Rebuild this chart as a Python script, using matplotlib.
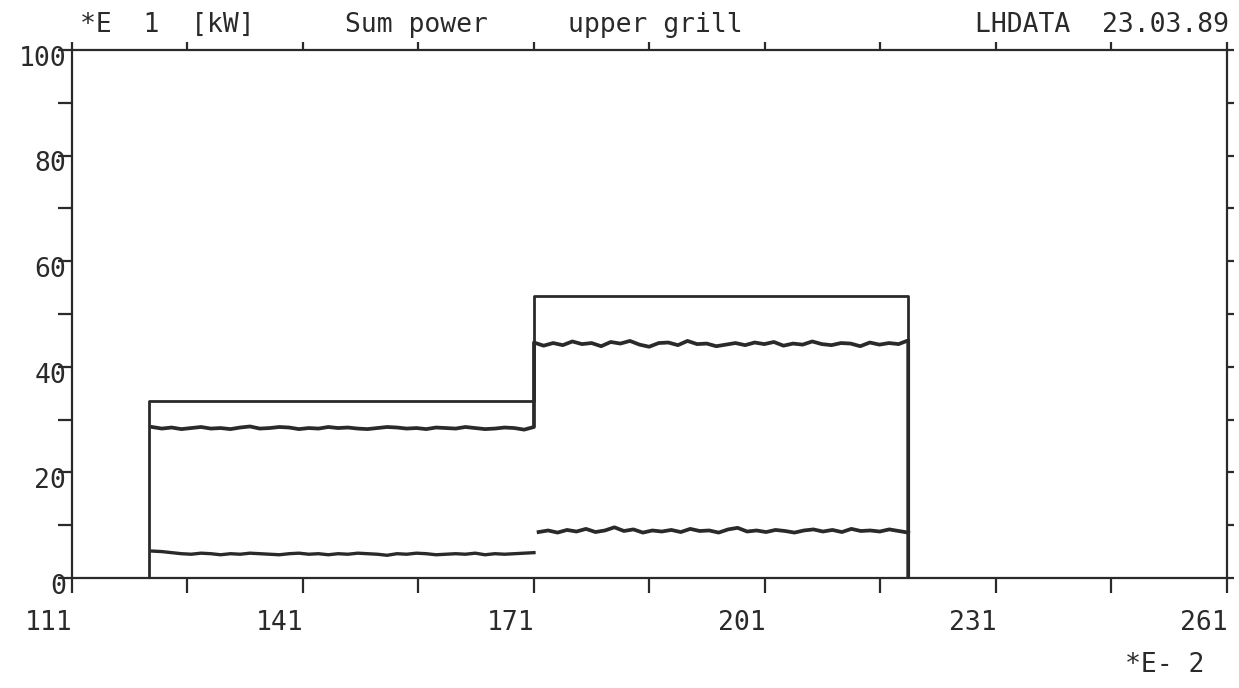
import numpy as np
import matplotlib
matplotlib.use("Agg")
import matplotlib.pyplot as plt
import matplotlib.transforms as mtransforms

# sum power (step outline)
sum_x = [111, 121, 171, 219.6, 261]
sum_y = [0, 33.5, 53.4, 0, 0]

# upper grill trace, two heating phases
mid1 = [28.6, 28.3, 28.5, 28.2, 28.4, 28.6, 28.3, 28.4, 28.2, 28.5, 28.7, 28.3, 28.4, 28.6,
        28.5, 28.2, 28.4, 28.3, 28.6, 28.4, 28.5, 28.3, 28.2, 28.4, 28.6, 28.5, 28.3, 28.4,
        28.2, 28.5, 28.4, 28.3, 28.6, 28.4, 28.2, 28.3, 28.5, 28.4, 28.1, 28.6]
mid2 = [44.6, 44.0, 44.5, 44.1, 44.8, 44.3, 44.5, 43.9, 44.7, 44.4, 44.9, 44.2, 43.8, 44.5,
        44.6, 44.1, 44.9, 44.3, 44.4, 43.9, 44.2, 44.5, 44.1, 44.6, 44.3, 44.7, 44.0, 44.4,
        44.2, 44.8, 44.3, 44.1, 44.5, 44.4, 43.9, 44.6, 44.2, 44.5, 44.3, 45.0]

# lower trace
low1 = [5.1, 5.0, 4.8, 4.6, 4.5, 4.7, 4.6, 4.4, 4.6, 4.5, 4.7, 4.6, 4.5, 4.4, 4.6, 4.7,
        4.5, 4.6, 4.4, 4.6, 4.5, 4.7, 4.6, 4.5, 4.3, 4.6, 4.5, 4.7, 4.6, 4.4, 4.5, 4.6,
        4.5, 4.7, 4.4, 4.6, 4.5, 4.6, 4.7, 4.8]
low2 = [8.7, 9.0, 8.6, 9.1, 8.8, 9.3, 8.7, 9.0, 9.6, 8.9, 9.2, 8.6, 9.0, 8.8, 9.1, 8.7,
        9.3, 8.9, 9.0, 8.6, 9.2, 9.5, 8.8, 9.0, 8.7, 9.1, 8.9, 8.6, 9.0, 9.2, 8.8, 9.1,
        8.7, 9.3, 8.9, 9.0, 8.8, 9.2, 8.9, 8.6]

t_on, t_step, t_off = 121, 171, 219.6
x_labels = ['111', '141', '171', '201', '231', '261']
x_label_vals = [111, 141, 171, 201, 231, 261]
y_label_vals = [0, 20, 40, 60, 80, 100]

ink = '#2a2a2a'
plt.rcParams['font.family'] = 'DejaVu Sans Mono'

fig = plt.figure(figsize=(12.39, 6.88), dpi=100)
ax = fig.add_axes([0.0581, 0.1599, 0.9322, 0.7674])

# traces
x1 = np.linspace(t_on + 0.4, t_step, len(mid1))
x2 = np.linspace(t_step, t_off, len(mid2))
ax.plot(np.concatenate([x1, x2, [t_off]]), mid1 + mid2 + [0], color=ink, lw=2.7)
ax.plot(np.linspace(t_on + 0.4, t_step, len(low1)), low1, color=ink, lw=2.4)
ax.plot(np.linspace(t_step + 0.6, t_off, len(low2)), low2, color=ink, lw=2.7)
ax.step(sum_x, sum_y, where='post', color=ink, lw=2.0)

ax.set_xlim(111, 261)
ax.set_ylim(0, 100)
for s in ax.spines.values():
    s.set_color(ink)
    s.set_linewidth(1.6)

ax.set_xticks(np.arange(111, 262, 15))
ax.set_yticks(np.arange(0, 101, 10))
ax.set_xticklabels([])
ax.set_yticklabels([])
ax.tick_params(axis='x', which='major', bottom=True, top=True, direction='out',
               color=ink, width=1.6, length=11)
ax.tick_params(axis='y', left=True, right=True, direction='out', color=ink, width=1.6, length=10)
for tk in ax.yaxis.get_major_ticks():
    tk.tick2line.set_markersize(5)
for tk in ax.xaxis.get_major_ticks():
    tk.tick2line.set_markersize(6)

# tick labels in plotter style
xtrans = mtransforms.blended_transform_factory(ax.transData, ax.transAxes)
for v, lab in zip(x_label_vals, x_labels):
    ax.text(v - 3, -0.085, lab, transform=xtrans, ha='center', va='center',
            fontsize=19, color=ink)
ytrans = mtransforms.blended_transform_factory(ax.transAxes, ax.transData)
for v in y_label_vals:
    ax.text(-0.005, v + 0.8, str(v), transform=ytrans, ha='right', va='top',
            fontsize=19, color=ink)

# header and footer texts
fig.text(80 / 1239, 1 - 25 / 688, '*E  1  [kW]', ha='left', va='center', fontsize=19, color=ink)
fig.text(345 / 1239, 1 - 25 / 688, 'Sum power', ha='left', va='center', fontsize=19, color=ink)
fig.text(568 / 1239, 1 - 25 / 688, 'upper grill', ha='left', va='center', fontsize=19, color=ink)
fig.text(975 / 1239, 1 - 25 / 688, 'LHDATA  23.03.89', ha='left', va='center', fontsize=19, color=ink)
fig.text(1125 / 1239, 1 - 665 / 688, '*E- 2', ha='left', va='center', fontsize=19, color=ink)

fig.savefig('out.png', dpi=100, facecolor='white')
